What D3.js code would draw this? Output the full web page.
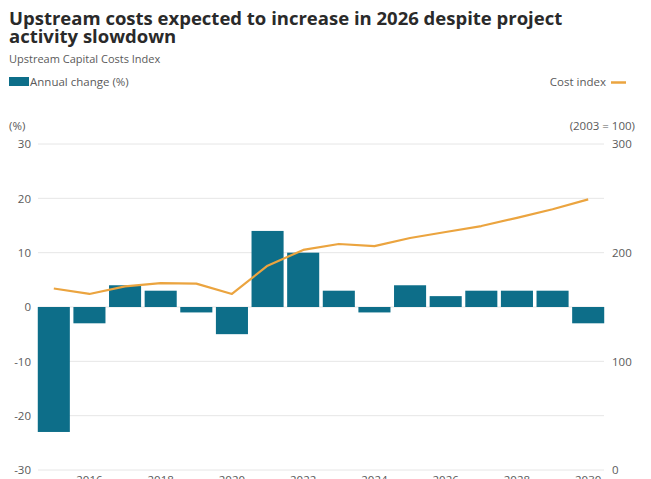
<!DOCTYPE html>
<html>
<head>
<meta charset="utf-8">
<script src="https://cdn.jsdelivr.net/npm/d3@7"></script>
<style>
  html, body { margin: 0; padding: 0; background: #fff; }
  svg { display: block; font-family: "Open Sans", "Noto Sans", sans-serif; }
</style>
</head>
<body>
<svg id="chart" width="651" height="479"></svg>
<script>
// Upstream Capital Costs Index: annual change (bars, left axis) and cost index (line, right axis)
const years = [2015, 2016, 2017, 2018, 2019, 2020, 2021, 2022, 2023, 2024, 2025, 2026, 2027, 2028, 2029, 2030];
const annualChange = [-23, -3, 4, 3, -1, -5, 14, 10, 3, -1, 4, 2, 3, 3, 3, -3];
const costIndex = [167, 162, 169, 172, 171.5, 162, 188, 202.5, 208, 206, 213.5, 219, 224.5, 232, 240, 249];
const leftTicks = [-30, -20, -10, 0, 10, 20, 30];
const rightTicks = [0, 100, 200, 300];
const yearLabels = [2016, 2018, 2020, 2022, 2024, 2026, 2028, 2030];
const titleLines = ["Upstream costs expected to increase in 2026 despite project", "activity slowdown"];

const svg = d3.select("#chart");
const teal = "#0d6e89";
const orange = "#eba43f";
const textGrey = "#5a5a5a";
const bodyFont = "'Open Sans', 'Noto Sans', sans-serif";

const x = d3.scaleBand().domain(years).range([36, 606]).paddingInner(0.1).paddingOuter(0.05);
const yL = d3.scaleLinear().domain([-30, 30]).range([470, 144]);
const yR = d3.scaleLinear().domain([0, 300]).range([470, 144]);

// Title (two lines in one text block)
const title = svg.append("text").attr("x", 9).attr("y", 24.5)
  .attr("font-size", 18.5).attr("font-weight", 700).attr("fill", "#2a2a2a");
title.selectAll("tspan").data(titleLines).join("tspan")
  .attr("x", 9).attr("dy", (d, i) => i === 0 ? 0 : 18.5)
  .text(d => d);

svg.append("text").attr("x", 9).attr("y", 62.5)
  .attr("font-size", 11).attr("fill", textGrey)
  .text("Upstream Capital Costs Index");

// Legend
svg.append("rect").attr("x", 9).attr("y", 77).attr("width", 20).attr("height", 9).attr("fill", teal);
svg.append("text").attr("x", 30).attr("y", 86).attr("font-size", 11.5).attr("fill", textGrey)
  .text("Annual change (%)");
svg.append("text").attr("x", 606).attr("y", 86).attr("font-size", 11.5).attr("fill", textGrey)
  .attr("text-anchor", "end").text("Cost index");
svg.append("line").attr("x1", 611).attr("x2", 626).attr("y1", 82.5).attr("y2", 82.5)
  .attr("stroke", orange).attr("stroke-width", 2.5);

// Axis unit labels
svg.append("text").attr("x", 9).attr("y", 130).attr("font-size", 11.5).attr("fill", textGrey).text("(%)");
svg.append("text").attr("x", 635).attr("y", 130).attr("font-size", 11.5).attr("fill", textGrey)
  .attr("text-anchor", "end").text("(2003 = 100)");

// Gridlines
svg.append("g").selectAll("line").data(leftTicks).join("line")
  .attr("x1", 38).attr("x2", 604)
  .attr("y1", d => yL(d)).attr("y2", d => yL(d))
  .attr("stroke", "#e6e6e6").attr("stroke-width", 1);

const plain = d => String(d);

// Left axis
const leftAxis = svg.append("g").attr("transform", "translate(31,0)")
  .call(d3.axisLeft(yL).tickValues(leftTicks).tickSize(0).tickPadding(0).tickFormat(plain));
leftAxis.select(".domain").remove();
leftAxis.selectAll("text").attr("font-size", 11.5).attr("fill", textGrey).attr("font-family", bodyFont);

// Right axis
const rightAxis = svg.append("g").attr("transform", "translate(612,0)")
  .call(d3.axisRight(yR).tickValues(rightTicks).tickSize(0).tickPadding(0).tickFormat(plain));
rightAxis.select(".domain").remove();
rightAxis.selectAll("text").attr("font-size", 11.5).attr("fill", textGrey).attr("font-family", bodyFont);

// Bottom axis (year labels)
const bottomAxis = svg.append("g").attr("transform", "translate(0,476)")
  .call(d3.axisBottom(x).tickValues(yearLabels).tickSize(0).tickPadding(0).tickFormat(plain));
bottomAxis.select(".domain").remove();
bottomAxis.selectAll("text").attr("font-size", 11.5).attr("fill", textGrey).attr("font-family", bodyFont);

// Bars
svg.append("g").selectAll("rect").data(years).join("rect")
  .attr("x", d => x(d))
  .attr("width", x.bandwidth())
  .attr("y", (d, i) => yL(Math.max(0, annualChange[i])))
  .attr("height", (d, i) => Math.abs(yL(annualChange[i]) - yL(0)))
  .attr("fill", teal);

// Cost index line
const line = d3.line()
  .x((d, i) => x(years[i]) + x.bandwidth() / 2)
  .y(d => yR(d));
svg.append("path").datum(costIndex)
  .attr("d", line)
  .attr("fill", "none")
  .attr("stroke", orange)
  .attr("stroke-width", 2.2)
  .attr("stroke-linejoin", "round");
</script>
</body>
</html>
